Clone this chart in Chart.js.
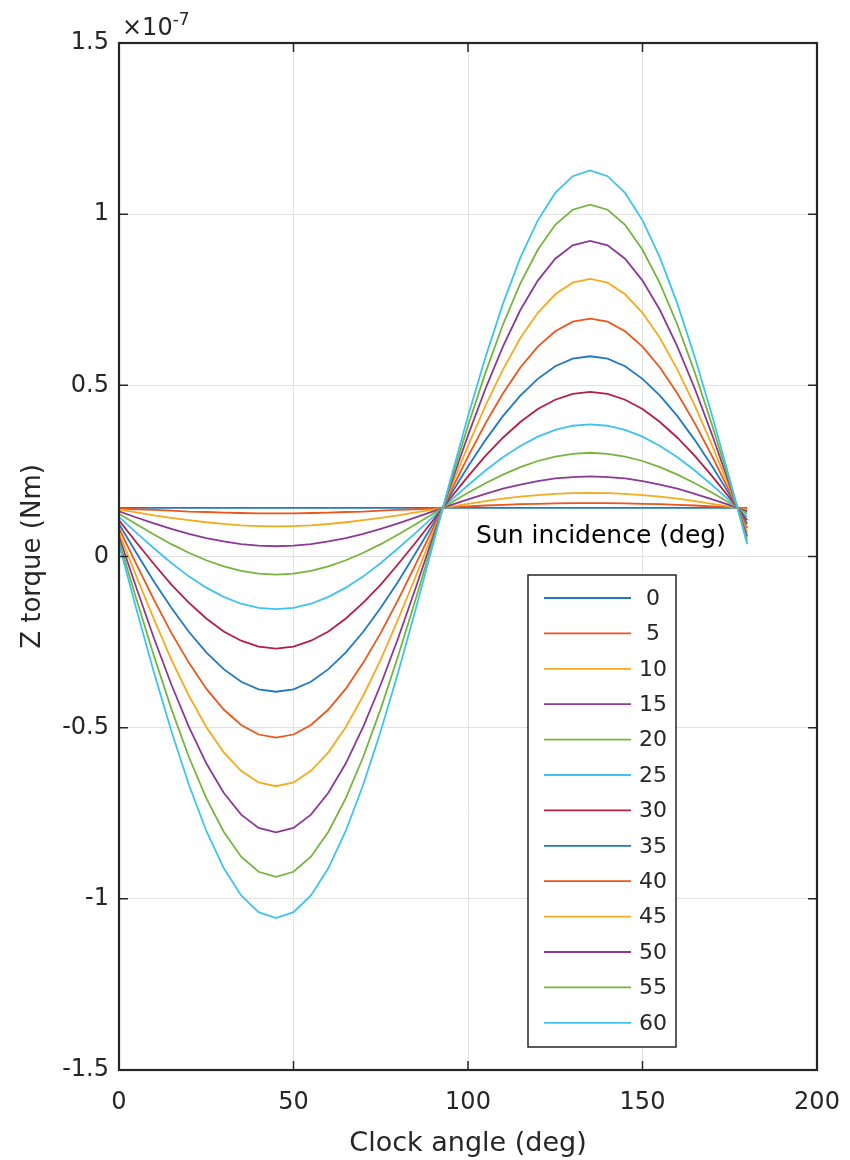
<!DOCTYPE html>
<html>
<head>
<meta charset="utf-8">
<title>Z torque vs clock angle</title>
<script src="https://cdn.jsdelivr.net/npm/chart.js@4.4.1/dist/chart.umd.min.js"></script>
<style>
  html, body { margin: 0; padding: 0; background: #fff; }
  #wrap { width: 850px; height: 1160px; }
</style>
</head>
<body>
<div id="wrap"><canvas id="torque" width="850" height="1160"></canvas></div>
<script>
// clock angle (deg), every 5 deg
var angles = [0,5,10,15,20,25,30,35,40,45,50,55,60,65,70,75,80,85,90,
  95,100,105,110,115,120,125,130,135,140,145,150,155,160,165,170,175,180];

// sun incidence (deg) -> legend labels
var incidence = ['0','5','10','15','20','25','30','35','40','45','50','55','60'];

// Z torque, in units of 1e-7 Nm
var tq0  = [0.142,0.142,0.142,0.142,0.142,0.142,0.142,0.142,0.142,0.142,0.142,0.142,0.142,0.142,0.142,0.142,0.142,0.142,0.142,0.142,0.142,0.142,0.142,0.142,0.142,0.142,0.142,0.142,0.142,0.142,0.142,0.142,0.142,0.142,0.142,0.142,0.142];
var tq5  = [0.141,0.138,0.136,0.134,0.131,0.130,0.128,0.127,0.126,0.126,0.126,0.127,0.128,0.130,0.131,0.134,0.136,0.138,0.141,0.144,0.146,0.149,0.151,0.153,0.154,0.155,0.156,0.156,0.156,0.155,0.154,0.153,0.151,0.149,0.146,0.144,0.141];
var tq10 = [0.137,0.129,0.120,0.113,0.106,0.100,0.095,0.091,0.089,0.088,0.089,0.091,0.095,0.100,0.106,0.113,0.120,0.129,0.137,0.146,0.154,0.162,0.169,0.175,0.179,0.183,0.185,0.186,0.185,0.183,0.179,0.175,0.169,0.162,0.154,0.146,0.137];
var tq15 = [0.132,0.114,0.097,0.081,0.066,0.054,0.044,0.036,0.032,0.030,0.032,0.036,0.044,0.054,0.066,0.081,0.097,0.114,0.132,0.150,0.167,0.183,0.198,0.210,0.220,0.228,0.232,0.234,0.232,0.228,0.220,0.210,0.198,0.183,0.167,0.150,0.132];
var tq20 = [0.125,0.094,0.064,0.036,0.011,-0.011,-0.029,-0.042,-0.050,-0.053,-0.050,-0.042,-0.029,-0.011,0.011,0.036,0.064,0.094,0.125,0.156,0.186,0.214,0.239,0.261,0.279,0.292,0.300,0.303,0.300,0.292,0.279,0.261,0.239,0.214,0.186,0.156,0.125];
var tq25 = [0.116,0.069,0.024,-0.019,-0.058,-0.091,-0.118,-0.138,-0.150,-0.154,-0.150,-0.138,-0.118,-0.091,-0.058,-0.019,0.024,0.069,0.116,0.163,0.208,0.251,0.290,0.323,0.350,0.370,0.382,0.386,0.382,0.370,0.350,0.323,0.290,0.251,0.208,0.163,0.116];
var tq30 = [0.106,0.041,-0.022,-0.082,-0.135,-0.181,-0.219,-0.246,-0.263,-0.269,-0.263,-0.246,-0.219,-0.181,-0.135,-0.082,-0.022,0.041,0.106,0.171,0.234,0.294,0.347,0.393,0.431,0.458,0.475,0.481,0.475,0.458,0.431,0.393,0.347,0.294,0.234,0.171,0.106];
var tq35 = [0.095,0.010,-0.073,-0.150,-0.220,-0.280,-0.329,-0.366,-0.388,-0.395,-0.388,-0.366,-0.329,-0.280,-0.220,-0.150,-0.073,0.010,0.095,0.180,0.263,0.340,0.410,0.470,0.519,0.556,0.578,0.585,0.578,0.556,0.519,0.470,0.410,0.340,0.263,0.180,0.095];
var tq40 = [0.083,-0.023,-0.126,-0.223,-0.310,-0.386,-0.447,-0.492,-0.520,-0.529,-0.520,-0.492,-0.447,-0.386,-0.310,-0.223,-0.126,-0.023,0.083,0.189,0.292,0.389,0.476,0.552,0.613,0.658,0.686,0.695,0.686,0.658,0.613,0.552,0.476,0.389,0.292,0.189,0.083];
var tq45 = [0.070,-0.059,-0.183,-0.301,-0.406,-0.498,-0.572,-0.626,-0.660,-0.671,-0.660,-0.626,-0.572,-0.498,-0.406,-0.301,-0.183,-0.059,0.070,0.199,0.323,0.441,0.546,0.638,0.712,0.766,0.800,0.811,0.800,0.766,0.712,0.638,0.546,0.441,0.323,0.199,0.070];
var tq50 = [0.058,-0.092,-0.238,-0.374,-0.497,-0.604,-0.690,-0.754,-0.793,-0.806,-0.793,-0.754,-0.690,-0.604,-0.497,-0.374,-0.238,-0.092,0.058,0.208,0.354,0.490,0.613,0.720,0.806,0.870,0.909,0.922,0.909,0.870,0.806,0.720,0.613,0.490,0.354,0.208,0.058];
var tq55 = [0.046,-0.125,-0.290,-0.445,-0.585,-0.706,-0.804,-0.877,-0.921,-0.936,-0.921,-0.877,-0.804,-0.706,-0.585,-0.445,-0.290,-0.125,0.046,0.217,0.382,0.537,0.677,0.798,0.896,0.969,1.013,1.028,1.013,0.969,0.896,0.798,0.677,0.537,0.382,0.217,0.046];
var tq60 = [0.036,-0.154,-0.338,-0.510,-0.666,-0.801,-0.910,-0.990,-1.039,-1.056,-1.039,-0.990,-0.910,-0.801,-0.666,-0.510,-0.338,-0.154,0.036,0.226,0.410,0.582,0.738,0.873,0.982,1.062,1.111,1.128,1.111,1.062,0.982,0.873,0.738,0.582,0.410,0.226,0.036];

var series = [tq0, tq5, tq10, tq15, tq20, tq25, tq30, tq35, tq40, tq45, tq50, tq55, tq60];

var xTicks = [0, 50, 100, 150, 200];
var yTicks = [-1.5, -1, -0.5, 0, 0.5, 1, 1.5];

// matlab-ish line colours, repeating after 7
var palette = ['#1f78c4', '#ec561c', '#f5ab1f', '#8a3a96', '#77b43e', '#3ec3f0', '#b51e45'];

var FONT = '"DejaVu Sans", sans-serif';
var INK = '#262626';

var datasets = series.map(function (vals, i) {
  return {
    label: incidence[i],
    data: angles.map(function (a, j) { return { x: a, y: vals[j] }; }),
    borderColor: palette[i % palette.length],
    backgroundColor: palette[i % palette.length],
    borderWidth: 1.8,
    pointRadius: 0,
    fill: false,
    tension: 0,
    order: series.length - i   // last series on top, like matlab
  };
});

// box, inward ticks and the x10^-7 exponent
var frame = {
  id: 'frame',
  afterDatasetsDraw: function (chart) {
    var a = chart.chartArea, ctx = chart.ctx;
    var xs = chart.scales.x, ys = chart.scales.y;
    ctx.save();
    ctx.strokeStyle = INK;
    ctx.lineWidth = 1.5;
    ctx.beginPath();
    xTicks.forEach(function (t) {
      var px = xs.getPixelForValue(t);
      ctx.moveTo(px, a.bottom); ctx.lineTo(px, a.bottom - 9);
      ctx.moveTo(px, a.top); ctx.lineTo(px, a.top + 9);
    });
    yTicks.forEach(function (t) {
      var py = ys.getPixelForValue(t);
      ctx.moveTo(a.left, py); ctx.lineTo(a.left + 9, py);
      ctx.moveTo(a.right, py); ctx.lineTo(a.right - 9, py);
    });
    ctx.stroke();
    ctx.lineWidth = 2.2;
    ctx.strokeRect(a.left, a.top, a.right - a.left, a.bottom - a.top);

    ctx.fillStyle = INK;
    ctx.textAlign = 'left';
    ctx.textBaseline = 'alphabetic';
    ctx.font = '24px ' + FONT;
    ctx.fillText('\u00d710', a.left + 3, a.top - 8);
    var w = ctx.measureText('\u00d710').width;
    ctx.font = '17px ' + FONT;
    ctx.fillText('-7', a.left + 3 + w, a.top - 18);
    ctx.restore();
  }
};

// legend box in the lower right of the plot, title above it
var legendBox = {
  id: 'legendBox',
  afterDraw: function (chart) {
    var a = chart.chartArea, ctx = chart.ctx;
    var bx = a.left + 409, by = a.top + 532, bw = 148, bh = 472;
    ctx.save();
    ctx.fillStyle = '#fff';
    ctx.fillRect(bx, by, bw, bh);
    ctx.strokeStyle = INK;
    ctx.lineWidth = 1.5;
    ctx.strokeRect(bx, by, bw, bh);

    ctx.font = '22px ' + FONT;
    ctx.textAlign = 'center';
    ctx.textBaseline = 'middle';
    chart.data.datasets.forEach(function (ds, i) {
      var ly = by + 23 + i * 35.4;
      ctx.strokeStyle = ds.borderColor;
      ctx.lineWidth = 1.8;
      ctx.beginPath();
      ctx.moveTo(bx + 16, ly);
      ctx.lineTo(bx + 103, ly);
      ctx.stroke();
      ctx.fillStyle = INK;
      ctx.fillText(ds.label, bx + 125, ly + 1);
    });

    ctx.font = '25px ' + FONT;
    ctx.fillStyle = '#000';
    ctx.fillText('Sun incidence (deg)', bx + 73, by - 39);
    ctx.restore();
  }
};

var ctx = document.getElementById('torque').getContext('2d');
var chart = new Chart(ctx, {
  type: 'line',
  data: { datasets: datasets },
  options: {
    responsive: false,
    animation: false,
    devicePixelRatio: 1,
    layout: { padding: { top: 43, right: 33, left: 0, bottom: 0 } },
    plugins: { legend: { display: false }, tooltip: { enabled: false } },
    scales: {
      x: {
        type: 'linear',
        min: 0, max: 200,
        afterBuildTicks: function (s) { s.ticks = xTicks.map(function (v) { return { value: v }; }); },
        ticks: { padding: 18, color: INK, maxRotation: 0, font: { family: FONT, size: 24 } },
        grid: { color: '#e2e2e2', lineWidth: 1, drawTicks: false },
        border: { display: false },
        title: { display: true, text: 'Clock angle (deg)', color: INK,
                 font: { family: FONT, size: 27 }, padding: { top: 0, bottom: 0 } },
        afterFit: function (s) { s.height = 90; s.paddingLeft = 0; s.paddingRight = 0; }
      },
      y: {
        type: 'linear',
        min: -1.5, max: 1.5,
        afterBuildTicks: function (s) { s.ticks = yTicks.map(function (v) { return { value: v }; }); },
        ticks: { padding: 10, color: INK, font: { family: FONT, size: 24 },
                 callback: function (v) { return String(Math.round(v * 10) / 10); } },
        grid: { color: '#e2e2e2', lineWidth: 1, drawTicks: false },
        border: { display: false },
        title: { display: true, text: 'Z torque (Nm)', color: INK,
                 font: { family: FONT, size: 26 }, padding: { top: 18, bottom: 0 } },
        afterFit: function (s) { s.width = 119; s.paddingTop = 0; s.paddingBottom = 0; }
      }
    }
  },
  plugins: [frame, legendBox]
});
</script>
</body>
</html>
